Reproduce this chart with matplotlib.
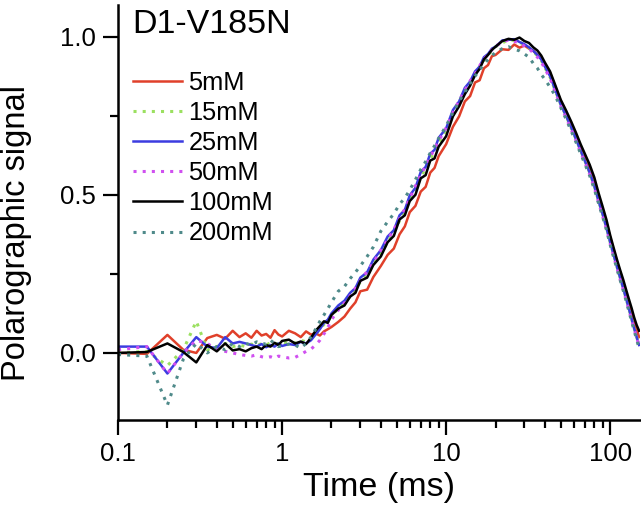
import numpy as np
import matplotlib
matplotlib.use("Agg")
import matplotlib.pyplot as plt
from matplotlib.ticker import LogLocator, MultipleLocator, FixedLocator, NullFormatter

plt.rcParams['font.family'] = ['Liberation Sans', 'DejaVu Sans']

# time axis (ms)
t_ms = [0.10, 0.15, 0.20, 0.25, 0.30, 0.35, 0.40, 0.45, 0.50, 0.55,
        0.60, 0.65, 0.70, 0.75, 0.80, 0.85, 0.90, 0.95, 1.0, 1.1,
        1.2, 1.3, 1.4, 1.5, 1.6, 1.7, 1.8, 1.9, 2.0, 2.2,
        2.4, 2.6, 2.8, 3.0, 3.3, 3.6, 4.0, 4.4, 4.8, 5.2,
        5.6, 6.0, 6.5, 7.0, 7.5, 8.0, 8.5, 9.0, 10, 11,
        12, 13, 14, 15, 16, 17, 18, 19, 20, 22,
        24, 26, 28, 30, 32, 34, 36, 38, 40, 43,
        46, 50, 54, 58, 62, 66, 70, 75, 80, 85,
        90, 95, 100, 105, 110, 115, 120, 125, 130, 135,
        140, 145, 150]

# polarographic signal, one list per concentration
sig_5mM = [0.000, -0.003, 0.057, 0.010, 0.000, 0.047, 0.057, 0.045, 0.070, 0.050,
           0.062, 0.048, 0.070, 0.055, 0.060, 0.048, 0.072, 0.058, 0.052, 0.070,
           0.062, 0.050, 0.068, 0.058, 0.062, 0.055, 0.068, 0.075, 0.082, 0.098,
           0.115, 0.140, 0.160, 0.195, 0.200, 0.240, 0.275, 0.310, 0.330, 0.375,
           0.400, 0.445, 0.465, 0.510, 0.525, 0.570, 0.585, 0.622, 0.660, 0.715,
           0.748, 0.795, 0.812, 0.855, 0.862, 0.900, 0.910, 0.938, 0.942, 0.960,
           0.958, 0.975, 0.965, 0.972, 0.962, 0.955, 0.942, 0.930, 0.910, 0.885,
           0.845, 0.795, 0.758, 0.722, 0.688, 0.652, 0.620, 0.585, 0.545, 0.495,
           0.452, 0.410, 0.365, 0.325, 0.288, 0.255, 0.222, 0.192, 0.160, 0.130,
           0.100, 0.075, 0.050]

sig_15mM = [0.000, 0.005, -0.040, 0.010, 0.100, 0.010, 0.020, 0.030, 0.020, 0.025,
            0.020, 0.028, 0.022, 0.030, 0.025, 0.032, 0.028, 0.030, 0.035, 0.030,
            0.032, 0.040, 0.035, 0.045, 0.060, 0.075, 0.090, 0.100, 0.118, 0.140,
            0.160, 0.178, 0.202, 0.225, 0.252, 0.278, 0.318, 0.350, 0.382, 0.418,
            0.450, 0.482, 0.520, 0.555, 0.585, 0.612, 0.638, 0.662, 0.705, 0.752,
            0.792, 0.825, 0.855, 0.880, 0.905, 0.925, 0.942, 0.955, 0.968, 0.980,
            0.990, 0.988, 0.982, 0.975, 0.965, 0.952, 0.940, 0.925, 0.902, 0.872,
            0.832, 0.785, 0.748, 0.710, 0.675, 0.640, 0.608, 0.570, 0.528, 0.480,
            0.438, 0.395, 0.350, 0.310, 0.272, 0.238, 0.205, 0.172, 0.140, 0.108,
            0.078, 0.050, 0.025]

sig_25mM = [0.020, 0.020, -0.065, 0.000, 0.050, 0.020, 0.015, 0.050, 0.030, 0.035,
            0.030, 0.025, 0.020, 0.028, 0.018, 0.025, 0.020, 0.030, 0.022, 0.028,
            0.025, 0.035, 0.030, 0.040, 0.058, 0.075, 0.095, 0.105, 0.125, 0.150,
            0.165, 0.190, 0.205, 0.238, 0.255, 0.295, 0.325, 0.368, 0.388, 0.435,
            0.452, 0.498, 0.522, 0.572, 0.588, 0.630, 0.642, 0.680, 0.710, 0.768,
            0.795, 0.838, 0.858, 0.890, 0.905, 0.935, 0.945, 0.962, 0.968, 0.988,
            0.990, 0.992, 0.983, 0.976, 0.966, 0.955, 0.942, 0.928, 0.905, 0.875,
            0.835, 0.785, 0.748, 0.712, 0.675, 0.640, 0.608, 0.570, 0.528, 0.480,
            0.438, 0.395, 0.350, 0.310, 0.272, 0.238, 0.205, 0.172, 0.140, 0.108,
            0.078, 0.050, 0.025]

sig_50mM = [0.010, 0.020, -0.065, 0.000, 0.040, 0.030, 0.010, 0.005, 0.000, -0.005,
            -0.008, -0.010, -0.006, -0.012, -0.015, -0.012, -0.017, -0.010, -0.012, -0.016,
            -0.014, -0.005, 0.005, 0.012, 0.025, 0.040, 0.060, 0.080, 0.105, 0.135,
            0.158, 0.180, 0.205, 0.228, 0.258, 0.285, 0.325, 0.358, 0.390, 0.425,
            0.455, 0.488, 0.528, 0.562, 0.592, 0.620, 0.645, 0.670, 0.712, 0.760,
            0.798, 0.830, 0.860, 0.882, 0.908, 0.928, 0.945, 0.958, 0.970, 0.982,
            0.990, 0.985, 0.980, 0.970, 0.962, 0.948, 0.935, 0.920, 0.898, 0.868,
            0.828, 0.780, 0.742, 0.705, 0.670, 0.635, 0.602, 0.565, 0.522, 0.475,
            0.432, 0.390, 0.345, 0.305, 0.268, 0.232, 0.200, 0.168, 0.136, 0.105,
            0.075, 0.048, 0.022]

sig_100mM = [0.000, 0.003, 0.030, 0.003, -0.030, 0.025, 0.005, 0.030, 0.008, 0.012,
             0.005, 0.015, 0.020, 0.012, 0.025, 0.020, 0.032, 0.025, 0.038, 0.042,
             0.030, 0.036, 0.028, 0.048, 0.070, 0.085, 0.100, 0.095, 0.120, 0.140,
             0.150, 0.178, 0.190, 0.228, 0.238, 0.278, 0.305, 0.350, 0.370, 0.422,
             0.435, 0.480, 0.500, 0.552, 0.562, 0.608, 0.615, 0.652, 0.685, 0.748,
             0.780, 0.818, 0.845, 0.878, 0.898, 0.928, 0.942, 0.958, 0.968, 0.986,
             0.993, 0.990, 0.997, 0.986, 0.980, 0.966, 0.956, 0.940, 0.918, 0.890,
             0.850, 0.800, 0.765, 0.730, 0.695, 0.660, 0.630, 0.595, 0.555, 0.505,
             0.462, 0.420, 0.372, 0.332, 0.295, 0.262, 0.232, 0.200, 0.170, 0.142,
             0.112, 0.088, 0.070]

sig_200mM = [-0.005, -0.010, -0.165, -0.020, 0.030, 0.000, 0.020, 0.010, 0.030, 0.020,
             0.030, 0.025, 0.035, 0.030, 0.028, 0.040, 0.030, 0.020, 0.022, 0.028,
             0.025, 0.015, 0.030, 0.050, 0.075, 0.100, 0.120, 0.140, 0.160, 0.195,
             0.210, 0.235, 0.255, 0.275, 0.305, 0.335, 0.385, 0.415, 0.440, 0.470,
             0.490, 0.515, 0.548, 0.580, 0.605, 0.632, 0.655, 0.678, 0.718, 0.760,
             0.795, 0.825, 0.852, 0.875, 0.895, 0.912, 0.928, 0.940, 0.950, 0.962,
             0.968, 0.960, 0.955, 0.945, 0.935, 0.915, 0.900, 0.880, 0.865, 0.840,
             0.815, 0.775, 0.738, 0.700, 0.665, 0.630, 0.598, 0.560, 0.518, 0.472,
             0.430, 0.388, 0.342, 0.302, 0.265, 0.230, 0.198, 0.165, 0.132, 0.100,
             0.070, 0.042, 0.015]

labels = ['5mM', '15mM', '25mM', '50mM', '100mM', '200mM']
series = [sig_5mM, sig_15mM, sig_25mM, sig_50mM, sig_100mM, sig_200mM]
colors = ['#e0402a', '#9be060', '#3c3ce0', '#d050f0', '#000000', '#4f8a8a']
dotted = [False, True, False, True, False, True]

fig = plt.figure(figsize=(6.41, 5.13), dpi=100)
ax = fig.add_axes([0.1841, 0.1813, 0.8144, 0.809])

for y, lab, c, d in zip(series, labels, colors, dotted):
    if d:
        ax.plot(t_ms, y, color=c, lw=2.2, ls=(0, (1, 2)), label=lab)
    else:
        ax.plot(t_ms, y, color=c, lw=1.8, label=lab)

ax.set_xscale('log')
ax.set_xlim(0.1, 152)
ax.set_ylim(-0.212, 1.1)

ax.xaxis.set_major_locator(FixedLocator([0.1, 1, 10, 100]))
ax.xaxis.set_minor_locator(LogLocator(base=10, subs=np.arange(2, 10)))
ax.xaxis.set_minor_formatter(NullFormatter())
ax.set_xticklabels(['0.1', '1', '10', '100'])
ax.yaxis.set_major_locator(MultipleLocator(0.5))
ax.yaxis.set_minor_locator(MultipleLocator(0.25))
ax.yaxis.set_major_formatter(plt.FuncFormatter(lambda v, p: '%.1f' % v))

for s in ['top', 'right']:
    ax.spines[s].set_visible(False)
for s in ['left', 'bottom']:
    ax.spines[s].set_linewidth(1.8)

ax.tick_params(which='major', length=11, width=1.6, labelsize=18.5, direction='out', pad=5)
ax.tick_params(which='minor', length=6, width=1.6, direction='out')

ax.set_xlabel('Time (ms)', fontsize=24.5, labelpad=4)
ax.set_ylabel('Polarographic signal', fontsize=23.5)
ax.yaxis.set_label_coords(-0.165, 0.45)

ax.text(0.027, 0.99, 'D1-V185N', transform=ax.transAxes, fontsize=24.5,
        va='top', ha='left')

ax.legend(loc='upper left', bbox_to_anchor=(0.029, 0.841), frameon=False,
          fontsize=18.3, handlelength=1.93, handletextpad=0.24, labelspacing=0.24,
          borderpad=0, borderaxespad=0)

fig.savefig('out.png', dpi=100)
